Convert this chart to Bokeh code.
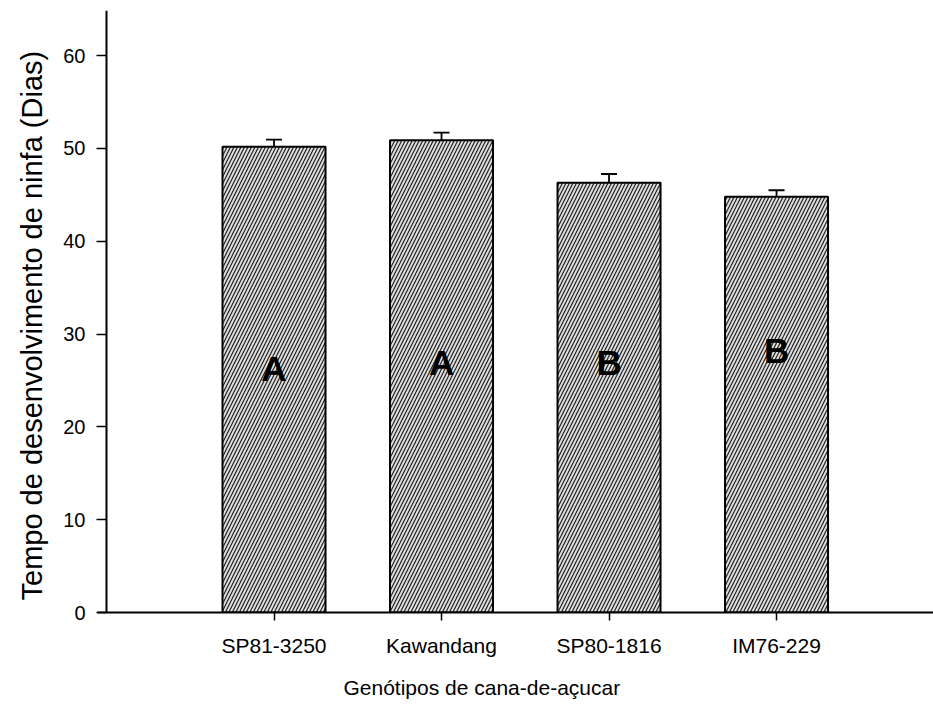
from bokeh.plotting import figure
from bokeh.models import Range1d, FixedTicker, Whisker, ColumnDataSource, Span, TeeHead, Title
from bokeh.embed import file_html
from bokeh.resources import INLINE
from bokeh.core.properties import value

# ---- data ----
genotypes = ["SP81-3250", "Kawandang", "SP80-1816", "IM76-229"]
positions = [1, 2, 3, 4]
means = [50.2, 50.9, 46.3, 44.8]
errors = [0.75, 0.8, 0.95, 0.7]
letters = ["A", "A", "B", "B"]
letter_y = [26.3, 26.9, 26.9, 28.2]
y_ticks = [0, 10, 20, 30, 40, 50, 60]
x_title = "Genótipos de cana-de-açucar"
y_title = "Tempo de desenvolvimento de ninfa (Dias)"

FONT = "Liberation Sans"

src = ColumnDataSource(dict(
    x=positions, top=means,
    upper=[m + e for m, e in zip(means, errors)],
    lower=[m - e for m, e in zip(means, errors)],
    letter=letters, ly=letter_y,
))

p = figure(width=933, height=713,
           x_range=Range1d(-0.0537, 4.937), y_range=Range1d(0, 64.87),
           output_backend="svg", toolbar_location=None,
           min_border_left=97, min_border_right=0,
           min_border_top=10, min_border_bottom=101)
p.outline_line_color = None
p.grid.visible = False
p.background_fill_color = "white"
p.border_fill_color = "white"

p.vbar(x="x", top="top", bottom=0, width=0.615, source=src,
       fill_color="#dedede", line_color="black", line_width=2,
       hatch_pattern="/", hatch_color="#222222", hatch_scale=7, hatch_weight=1.2)

whisk = Whisker(base="x", upper="upper", lower="lower", source=src,
                line_width=1.8, line_color="black",
                upper_head=TeeHead(size=16, line_width=1.8, line_color="black"),
                lower_head=TeeHead(size=16, line_width=1.8, line_color="black"))
p.add_layout(whisk)

p.text(x="x", y="ly", text="letter", source=src,
       text_font=value(FONT), text_font_style="bold", text_font_size="35px",
       text_align="center", text_baseline="middle", text_color="black")

# y axis line drawn as a span at x=0 (x axis extends slightly left of it)
p.add_layout(Span(location=0, dimension="height", line_color="black", line_width=2))

# x axis
xa = p.xaxis[0]
xa.ticker = FixedTicker(ticks=positions)
xa.major_label_overrides = {pos: g for pos, g in zip(positions, genotypes)}
xa.axis_line_width = 2
xa.major_tick_line_width = 1.5
xa.major_tick_out = 8
xa.major_tick_in = 0
xa.minor_tick_line_color = None
xa.major_label_standoff = 13
xa.major_label_text_font = FONT
xa.major_label_text_font_size = "21px"
xa.major_label_text_color = "black"

# y axis
ya = p.yaxis[0]
ya.ticker = FixedTicker(ticks=y_ticks)
ya.axis_line_color = None
ya.major_tick_line_width = 1.5
ya.major_tick_out = 1
ya.major_tick_in = 9
ya.minor_tick_line_color = None
ya.major_label_standoff = 11
ya.major_label_text_font = FONT
ya.major_label_text_font_size = "20px"
ya.major_label_text_color = "black"

# axis titles as side titles (reference titles are not centred on the frame)
p.add_layout(Title(text=x_title, align="left", offset=246, standoff=28,
                   text_font=FONT, text_font_size="21px", text_font_style="normal",
                   text_color="black"), "below")
p.add_layout(Title(text=y_title, align="left", offset=12, standoff=25,
                   text_font=FONT, text_font_size="29px", text_font_style="normal",
                   text_color="black"), "left")

open("out.html", "w").write(file_html(p, INLINE))
